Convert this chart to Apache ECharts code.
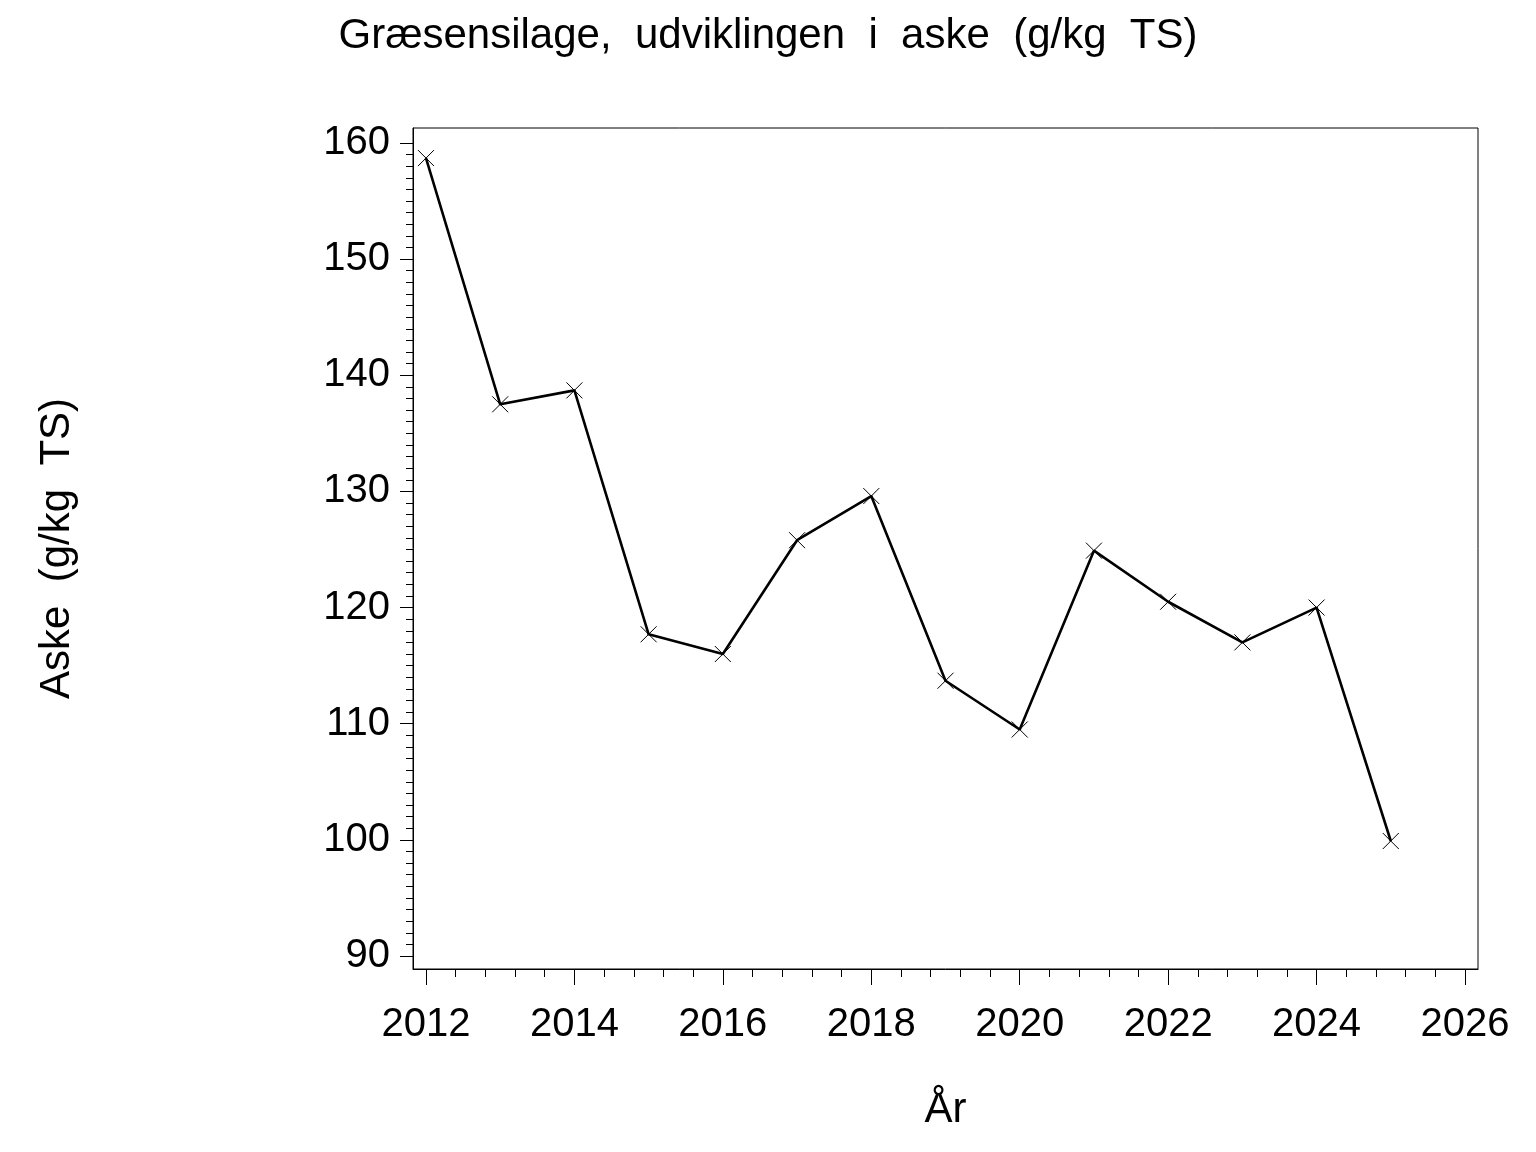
<!DOCTYPE html>
<html>
<head>
<meta charset="utf-8">
<script src="https://cdn.jsdelivr.net/npm/echarts@6/dist/echarts.min.js"></script>
<style>
html,body{margin:0;padding:0;background:#fff;}
#chart{width:1536px;height:1152px;}
</style>
</head>
<body>
<div id="chart"></div>
<script>
// Data
const years = [2012, 2013, 2014, 2015, 2016, 2017, 2018, 2019, 2020, 2021, 2022, 2023, 2024, 2025];
const aske  = [158.7, 137.5, 138.7, 117.7, 116.0, 125.8, 129.6, 113.7, 109.5, 124.9, 120.5, 117.0, 120.0, 99.9];

// Tick labels / tick positions
const xMajorTicks = [2012, 2014, 2016, 2018, 2020, 2022, 2024, 2026];
const xMinorTicks = [2012.4, 2012.8, 2013.2, 2013.6, 2014.4, 2014.8, 2015.2, 2015.6,
  2016.4, 2016.8, 2017.2, 2017.6, 2018.4, 2018.8, 2019.2, 2019.6,
  2020.4, 2020.8, 2021.2, 2021.6, 2022.4, 2022.8, 2023.2, 2023.6,
  2024.4, 2024.8, 2025.2, 2025.6];
const yMajorTicks = [90, 100, 110, 120, 130, 140, 150, 160];
const yMinorTicks = [];
for (let v = 90; v <= 160; v++) { if (v % 10 !== 0) yMinorTicks.push(v); }

const titleText = 'Græsensilage,  udviklingen  i  aske  (g/kg  TS)';
const yName = 'Aske  (g/kg  TS)';
const xName = 'År';

const FONT = '"Liberation Sans", Arial, Helvetica, sans-serif';
const X_MIN = 2011.825, X_MAX = 2026.175;
const Y_MIN = 88.88, Y_MAX = 161.29;

const chart = echarts.init(document.getElementById('chart'), null, {renderer: 'canvas'});
chart.setOption({
  backgroundColor: '#ffffff',
  animation: false,
  title: {
    text: titleText,
    left: 'center',
    top: 10,
    textStyle: {fontFamily: FONT, fontSize: 42, fontWeight: 'normal', color: '#000'}
  },
  grid: {
    left: 413, right: 58, top: 128, bottom: 183,
    show: true, borderColor: '#000', borderWidth: 1, backgroundColor: 'transparent',
    containLabel: false
  },
  xAxis: [
    {
      type: 'value', min: X_MIN, max: X_MAX, position: 'bottom',
      name: xName, nameLocation: 'middle', nameGap: 120,
      nameTextStyle: {fontFamily: FONT, fontSize: 42, color: '#000'},
      axisLine: {show: true, lineStyle: {color: '#000', width: 1}},
      axisTick: {show: true, length: 16, lineStyle: {color: '#000', width: 1}, customValues: xMajorTicks},
      axisLabel: {show: true, margin: 36, fontFamily: FONT, fontSize: 40, color: '#000',
        customValues: xMajorTicks, formatter: v => String(Math.round(v))},
      splitLine: {show: false}
    },
    {
      type: 'value', min: X_MIN, max: X_MAX, position: 'bottom', gridIndex: 0,
      axisLine: {show: false},
      axisTick: {show: true, length: 8, lineStyle: {color: '#000', width: 1}, customValues: xMinorTicks},
      axisLabel: {show: false},
      splitLine: {show: false}
    }
  ],
  yAxis: [
    {
      type: 'value', min: Y_MIN, max: Y_MAX, position: 'left',
      name: yName, nameLocation: 'middle', nameGap: 335, nameRotate: 90,
      nameTextStyle: {fontFamily: FONT, fontSize: 42, color: '#000'},
      axisLine: {show: true, lineStyle: {color: '#000', width: 1}},
      axisTick: {show: true, length: 13, lineStyle: {color: '#000', width: 1}, customValues: yMajorTicks},
      axisLabel: {show: true, margin: 23, fontFamily: FONT, fontSize: 40, color: '#000',
        customValues: yMajorTicks, formatter: v => String(Math.round(v))},
      splitLine: {show: false}
    },
    {
      type: 'value', min: Y_MIN, max: Y_MAX, position: 'left', gridIndex: 0,
      axisLine: {show: false},
      axisTick: {show: true, length: 7, lineStyle: {color: '#000', width: 1}, customValues: yMinorTicks},
      axisLabel: {show: false},
      splitLine: {show: false}
    }
  ],
  series: [{
    type: 'line',
    xAxisIndex: 0, yAxisIndex: 0,
    data: years.map((y, i) => [y, aske[i]]),
    lineStyle: {color: '#000', width: 2.6},
    symbol: 'path://M0,0L10,10M10,0L0,10',
    symbolSize: 16,
    showAllSymbol: true,
    itemStyle: {color: 'transparent', borderColor: '#000', borderWidth: 1},
    emphasis: {disabled: true}
  }]
});
</script>
</body>
</html>
